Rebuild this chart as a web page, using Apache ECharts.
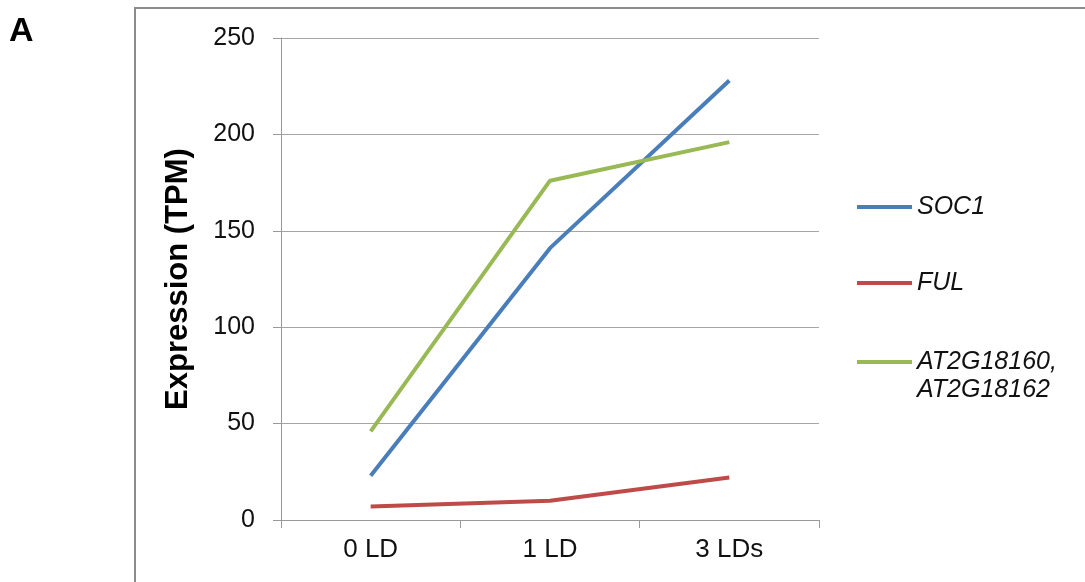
<!DOCTYPE html>
<html>
<head>
<meta charset="utf-8">
<script src="https://cdn.jsdelivr.net/npm/echarts@6/dist/echarts.min.js"></script>
<style>
  html, body { margin: 0; padding: 0; background: #fff; }
  #container { width: 1085px; height: 582px; }
</style>
</head>
<body>
<div id="container"></div>
<script>
// data
var days = ['0 LD', '1 LD', '3 LDs'];
var soc1 = [23, 141, 228];
var ful = [7, 10, 22];
var at2g = [46, 176, 196];
var names = ['SOC1', 'FUL', 'AT2G18160,\nAT2G18162'];
var colors = ['#4A7EBB', '#BE4B48', '#98B954'];

var dom = document.getElementById('container');
var myChart = echarts.init(dom, null, { renderer: 'canvas' });

var font = 'Liberation Sans, Arial, sans-serif';

function line(name, data, color) {
    return {
        name: name,
        type: 'line',
        data: data,
        showSymbol: false,
        symbol: 'none',
        lineStyle: { width: 4, color: color },
        itemStyle: { color: color },
        animation: false
    };
}

var legendText = { fontSize: 25, fontStyle: 'italic', color: '#111', fontFamily: font, lineHeight: 28 };

var option = {
    animation: false,
    textStyle: { fontFamily: font },
    grid: { left: 281, right: 266, top: 38, bottom: 62 },
    graphic: [
        {
            type: 'rect',
            shape: { x: 135, y: 8, width: 1000, height: 700 },
            style: { fill: 'none', stroke: '#8c8c8c', lineWidth: 2 },
            silent: true
        },
        {
            type: 'text',
            left: 9,
            top: 15,
            style: { text: 'A', font: 'bold 34px ' + font, fill: '#000' }
        }
    ],
    legend: [
        {
            orient: 'vertical',
            left: 852,
            top: 188,
            itemWidth: 55,
            itemHeight: 4,
            itemGap: 48,
            icon: 'rect',
            data: [names[0], names[1]],
            textStyle: legendText
        },
        {
            // own box so the icon sits on the first line of the two-line name
            orient: 'vertical',
            left: 852,
            top: 315,
            itemWidth: 55,
            itemHeight: 4,
            icon: 'rect',
            data: [names[2]],
            formatter: function (n) { return '\n' + n; },
            textStyle: legendText
        }
    ],
    xAxis: {
        type: 'category',
        data: days,
        boundaryGap: true,
        axisLine: { lineStyle: { color: '#9a9a9a', width: 1 } },
        axisTick: { show: true, length: 8, inside: false, lineStyle: { color: '#9a9a9a' } },
        axisLabel: { fontSize: 26, color: '#111', margin: 17 },
        splitLine: { show: false }
    },
    yAxis: {
        type: 'value',
        min: 0,
        max: 250,
        interval: 50,
        name: 'Expression (TPM)',
        nameLocation: 'middle',
        nameGap: 87,
        nameTextStyle: { fontSize: 31, fontWeight: 'bold', color: '#000' },
        axisLine: { show: true, lineStyle: { color: '#9a9a9a', width: 1 } },
        axisTick: { show: true, length: 8, inside: false, lineStyle: { color: '#9a9a9a' } },
        axisLabel: { fontSize: 25, color: '#111', margin: 26 },
        splitLine: { show: true, lineStyle: { color: '#a6a6a6', width: 1 } }
    },
    series: [
        line(names[0], soc1, colors[0]),
        line(names[1], ful, colors[1]),
        line(names[2], at2g, colors[2])
    ]
};

myChart.setOption(option);
window.addEventListener('resize', myChart.resize);
</script>
</body>
</html>
